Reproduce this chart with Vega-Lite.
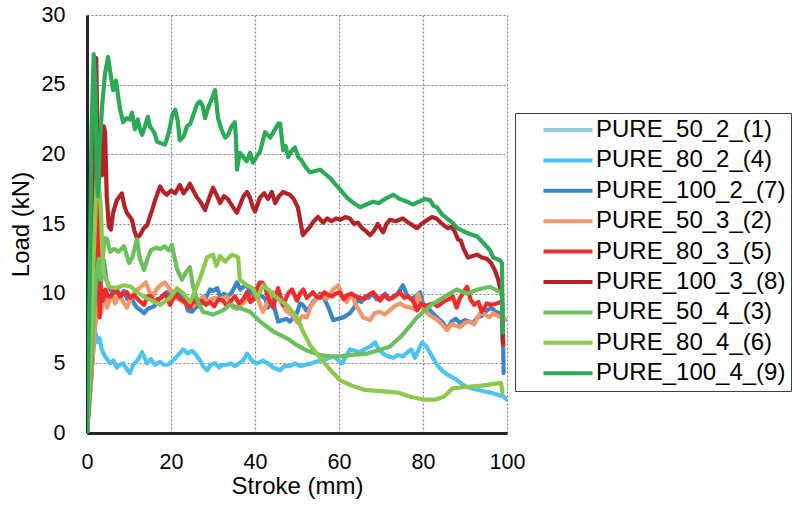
{
"$schema": "https://vega.github.io/schema/vega-lite/v6.json",
"width": 420, "height": 418,
"autosize": {"type": "none"},
"padding": {"left": 87, "top": 15, "right": 297, "bottom": 73},
"background": "white",
"config": {"font": "Liberation Sans", "view": {"stroke": null}},
"datasets": {"d": [
{"s":"PURE_80_2_(4)","x":0,"y":0},{"s":"PURE_80_2_(4)","x":0.8,"y":3},{"s":"PURE_80_2_(4)","x":1.5,"y":6.8},{"s":"PURE_80_2_(4)","x":1.9,"y":7.3},{"s":"PURE_80_2_(4)","x":2.3,"y":6.9},{"s":"PURE_80_2_(4)","x":2.6,"y":6.5},{"s":"PURE_80_2_(4)","x":3,"y":6.8},{"s":"PURE_80_2_(4)","x":3.5,"y":6},{"s":"PURE_80_2_(4)","x":4.3,"y":5.5},{"s":"PURE_80_2_(4)","x":5.5,"y":5},{"s":"PURE_80_2_(4)","x":6.3,"y":5.2},{"s":"PURE_80_2_(4)","x":7.1,"y":4.7},{"s":"PURE_80_2_(4)","x":7.8,"y":4.9},{"s":"PURE_80_2_(4)","x":8.6,"y":5},{"s":"PURE_80_2_(4)","x":9.4,"y":4.6},{"s":"PURE_80_2_(4)","x":10.2,"y":4.3},{"s":"PURE_80_2_(4)","x":11,"y":4.9},{"s":"PURE_80_2_(4)","x":12,"y":5.2},{"s":"PURE_80_2_(4)","x":13.1,"y":5.8},{"s":"PURE_80_2_(4)","x":14.3,"y":5},{"s":"PURE_80_2_(4)","x":15.2,"y":5.3},{"s":"PURE_80_2_(4)","x":16.2,"y":4.9},{"s":"PURE_80_2_(4)","x":17.4,"y":5.1},{"s":"PURE_80_2_(4)","x":18.3,"y":4.9},{"s":"PURE_80_2_(4)","x":19.3,"y":4.9},{"s":"PURE_80_2_(4)","x":20.5,"y":5.2},{"s":"PURE_80_2_(4)","x":21.4,"y":5.5},{"s":"PURE_80_2_(4)","x":22.9,"y":6},{"s":"PURE_80_2_(4)","x":24,"y":5.7},{"s":"PURE_80_2_(4)","x":25,"y":5.9},{"s":"PURE_80_2_(4)","x":26,"y":5.6},{"s":"PURE_80_2_(4)","x":26.9,"y":5.2},{"s":"PURE_80_2_(4)","x":27.6,"y":4.8},{"s":"PURE_80_2_(4)","x":28.6,"y":4.5},{"s":"PURE_80_2_(4)","x":29.5,"y":4.9},{"s":"PURE_80_2_(4)","x":30.5,"y":5},{"s":"PURE_80_2_(4)","x":31.5,"y":4.7},{"s":"PURE_80_2_(4)","x":32.3,"y":4.9},{"s":"PURE_80_2_(4)","x":33.3,"y":4.9},{"s":"PURE_80_2_(4)","x":34.3,"y":5},{"s":"PURE_80_2_(4)","x":35.2,"y":4.8},{"s":"PURE_80_2_(4)","x":36.2,"y":5},{"s":"PURE_80_2_(4)","x":37.2,"y":5.2},{"s":"PURE_80_2_(4)","x":38.1,"y":5.7},{"s":"PURE_80_2_(4)","x":39.5,"y":5.1},{"s":"PURE_80_2_(4)","x":40.5,"y":5},{"s":"PURE_80_2_(4)","x":41.9,"y":5.2},{"s":"PURE_80_2_(4)","x":43.1,"y":5},{"s":"PURE_80_2_(4)","x":44.3,"y":4.7},{"s":"PURE_80_2_(4)","x":46,"y":4.5},{"s":"PURE_80_2_(4)","x":47,"y":4.8},{"s":"PURE_80_2_(4)","x":48.3,"y":4.8},{"s":"PURE_80_2_(4)","x":49.5,"y":5},{"s":"PURE_80_2_(4)","x":50.7,"y":4.8},{"s":"PURE_80_2_(4)","x":52,"y":4.9},{"s":"PURE_80_2_(4)","x":53.5,"y":5},{"s":"PURE_80_2_(4)","x":55.5,"y":5.2},{"s":"PURE_80_2_(4)","x":57,"y":5.3},{"s":"PURE_80_2_(4)","x":58.6,"y":5.5},{"s":"PURE_80_2_(4)","x":59.5,"y":5.3},{"s":"PURE_80_2_(4)","x":60.7,"y":5},{"s":"PURE_80_2_(4)","x":61.7,"y":5.5},{"s":"PURE_80_2_(4)","x":62.6,"y":6},{"s":"PURE_80_2_(4)","x":63.8,"y":5.9},{"s":"PURE_80_2_(4)","x":65,"y":5.8},{"s":"PURE_80_2_(4)","x":66,"y":6},{"s":"PURE_80_2_(4)","x":67.4,"y":6.2},{"s":"PURE_80_2_(4)","x":68.6,"y":6.5},{"s":"PURE_80_2_(4)","x":69.5,"y":6},{"s":"PURE_80_2_(4)","x":70.5,"y":5.7},{"s":"PURE_80_2_(4)","x":71.7,"y":5.5},{"s":"PURE_80_2_(4)","x":73,"y":5.4},{"s":"PURE_80_2_(4)","x":74,"y":5.6},{"s":"PURE_80_2_(4)","x":75.2,"y":5.5},{"s":"PURE_80_2_(4)","x":76.3,"y":5.8},{"s":"PURE_80_2_(4)","x":77.2,"y":6},{"s":"PURE_80_2_(4)","x":78.1,"y":5.4},{"s":"PURE_80_2_(4)","x":79,"y":6},{"s":"PURE_80_2_(4)","x":79.8,"y":6.5},{"s":"PURE_80_2_(4)","x":80.8,"y":6.2},{"s":"PURE_80_2_(4)","x":82,"y":5.6},{"s":"PURE_80_2_(4)","x":83.3,"y":4.9},{"s":"PURE_80_2_(4)","x":84.5,"y":4.5},{"s":"PURE_80_2_(4)","x":85.7,"y":4.2},{"s":"PURE_80_2_(4)","x":87,"y":4},{"s":"PURE_80_2_(4)","x":88.1,"y":3.8},{"s":"PURE_80_2_(4)","x":89.3,"y":3.5},{"s":"PURE_80_2_(4)","x":90.5,"y":3.3},{"s":"PURE_80_2_(4)","x":91.7,"y":3.2},{"s":"PURE_80_2_(4)","x":92.9,"y":3.1},{"s":"PURE_80_2_(4)","x":94.5,"y":3},{"s":"PURE_80_2_(4)","x":96,"y":2.9},{"s":"PURE_80_2_(4)","x":97.2,"y":2.8},{"s":"PURE_80_2_(4)","x":98.3,"y":2.7},{"s":"PURE_80_2_(4)","x":99.2,"y":2.6},{"s":"PURE_80_2_(4)","x":100,"y":2.4},
{"s":"PURE_100_2_(7)","x":0,"y":0},{"s":"PURE_100_2_(7)","x":1,"y":4},{"s":"PURE_100_2_(7)","x":2,"y":8},{"s":"PURE_100_2_(7)","x":2.6,"y":9.5},{"s":"PURE_100_2_(7)","x":3.2,"y":10.5},{"s":"PURE_100_2_(7)","x":4,"y":12.4},{"s":"PURE_100_2_(7)","x":4.6,"y":11},{"s":"PURE_100_2_(7)","x":5.5,"y":10.3},{"s":"PURE_100_2_(7)","x":6.3,"y":10},{"s":"PURE_100_2_(7)","x":7.1,"y":10.1},{"s":"PURE_100_2_(7)","x":8,"y":9.9},{"s":"PURE_100_2_(7)","x":8.8,"y":10.2},{"s":"PURE_100_2_(7)","x":9.6,"y":9.6},{"s":"PURE_100_2_(7)","x":10.5,"y":9.8},{"s":"PURE_100_2_(7)","x":11.2,"y":9.3},{"s":"PURE_100_2_(7)","x":11.9,"y":9},{"s":"PURE_100_2_(7)","x":12.8,"y":8.8},{"s":"PURE_100_2_(7)","x":13.6,"y":8.6},{"s":"PURE_100_2_(7)","x":14.4,"y":8.9},{"s":"PURE_100_2_(7)","x":15.2,"y":9},{"s":"PURE_100_2_(7)","x":16,"y":9.1},{"s":"PURE_100_2_(7)","x":16.7,"y":9.4},{"s":"PURE_100_2_(7)","x":17.8,"y":9.8},{"s":"PURE_100_2_(7)","x":19,"y":10.1},{"s":"PURE_100_2_(7)","x":20,"y":9.8},{"s":"PURE_100_2_(7)","x":21.4,"y":10.1},{"s":"PURE_100_2_(7)","x":22.4,"y":9.9},{"s":"PURE_100_2_(7)","x":23.3,"y":9.5},{"s":"PURE_100_2_(7)","x":24,"y":8.8},{"s":"PURE_100_2_(7)","x":25,"y":8.7},{"s":"PURE_100_2_(7)","x":25.8,"y":9},{"s":"PURE_100_2_(7)","x":26.9,"y":9.2},{"s":"PURE_100_2_(7)","x":28,"y":9.5},{"s":"PURE_100_2_(7)","x":29.3,"y":10.3},{"s":"PURE_100_2_(7)","x":30,"y":10.2},{"s":"PURE_100_2_(7)","x":31,"y":10.4},{"s":"PURE_100_2_(7)","x":31.8,"y":9.7},{"s":"PURE_100_2_(7)","x":32.6,"y":10},{"s":"PURE_100_2_(7)","x":33.5,"y":9.8},{"s":"PURE_100_2_(7)","x":34.5,"y":10.1},{"s":"PURE_100_2_(7)","x":35.7,"y":10.8},{"s":"PURE_100_2_(7)","x":36.5,"y":10.3},{"s":"PURE_100_2_(7)","x":37.3,"y":10.5},{"s":"PURE_100_2_(7)","x":38.1,"y":10.6},{"s":"PURE_100_2_(7)","x":39,"y":10},{"s":"PURE_100_2_(7)","x":40,"y":9.9},{"s":"PURE_100_2_(7)","x":40.8,"y":10},{"s":"PURE_100_2_(7)","x":41.7,"y":9.8},{"s":"PURE_100_2_(7)","x":42.5,"y":9.6},{"s":"PURE_100_2_(7)","x":43.1,"y":9},{"s":"PURE_100_2_(7)","x":44,"y":9.8},{"s":"PURE_100_2_(7)","x":44.8,"y":8.8},{"s":"PURE_100_2_(7)","x":45.5,"y":8},{"s":"PURE_100_2_(7)","x":46.5,"y":8.1},{"s":"PURE_100_2_(7)","x":47.5,"y":8.2},{"s":"PURE_100_2_(7)","x":48.3,"y":8},{"s":"PURE_100_2_(7)","x":49.2,"y":8.3},{"s":"PURE_100_2_(7)","x":50,"y":8.6},{"s":"PURE_100_2_(7)","x":50.7,"y":9.3},{"s":"PURE_100_2_(7)","x":51.4,"y":9.2},{"s":"PURE_100_2_(7)","x":52.2,"y":8.8},{"s":"PURE_100_2_(7)","x":53,"y":9},{"s":"PURE_100_2_(7)","x":53.8,"y":9.4},{"s":"PURE_100_2_(7)","x":54.8,"y":9.7},{"s":"PURE_100_2_(7)","x":55.5,"y":10},{"s":"PURE_100_2_(7)","x":56.4,"y":9.7},{"s":"PURE_100_2_(7)","x":57.5,"y":9},{"s":"PURE_100_2_(7)","x":58.6,"y":8.1},{"s":"PURE_100_2_(7)","x":59.8,"y":8.2},{"s":"PURE_100_2_(7)","x":61,"y":8.3},{"s":"PURE_100_2_(7)","x":62.6,"y":8.6},{"s":"PURE_100_2_(7)","x":63.6,"y":9},{"s":"PURE_100_2_(7)","x":64.5,"y":9.6},{"s":"PURE_100_2_(7)","x":65.3,"y":9.4},{"s":"PURE_100_2_(7)","x":66.2,"y":9.8},{"s":"PURE_100_2_(7)","x":67,"y":9.7},{"s":"PURE_100_2_(7)","x":68,"y":10},{"s":"PURE_100_2_(7)","x":69,"y":9.6},{"s":"PURE_100_2_(7)","x":70,"y":9.7},{"s":"PURE_100_2_(7)","x":71,"y":10},{"s":"PURE_100_2_(7)","x":72,"y":9.6},{"s":"PURE_100_2_(7)","x":73,"y":9.8},{"s":"PURE_100_2_(7)","x":74,"y":10},{"s":"PURE_100_2_(7)","x":75.2,"y":10.6},{"s":"PURE_100_2_(7)","x":76.2,"y":9.9},{"s":"PURE_100_2_(7)","x":77.2,"y":9.6},{"s":"PURE_100_2_(7)","x":78.2,"y":9.8},{"s":"PURE_100_2_(7)","x":79.3,"y":10.1},{"s":"PURE_100_2_(7)","x":80,"y":9.3},{"s":"PURE_100_2_(7)","x":81,"y":9},{"s":"PURE_100_2_(7)","x":81.7,"y":8.8},{"s":"PURE_100_2_(7)","x":83.3,"y":8.3},{"s":"PURE_100_2_(7)","x":84.8,"y":7.9},{"s":"PURE_100_2_(7)","x":85.7,"y":7.4},{"s":"PURE_100_2_(7)","x":86.8,"y":8},{"s":"PURE_100_2_(7)","x":87.8,"y":8.2},{"s":"PURE_100_2_(7)","x":88.8,"y":7.9},{"s":"PURE_100_2_(7)","x":90,"y":8.1},{"s":"PURE_100_2_(7)","x":91,"y":8},{"s":"PURE_100_2_(7)","x":91.9,"y":7.9},{"s":"PURE_100_2_(7)","x":93,"y":8.3},{"s":"PURE_100_2_(7)","x":94,"y":8.4},{"s":"PURE_100_2_(7)","x":95.2,"y":8.8},{"s":"PURE_100_2_(7)","x":96.2,"y":9},{"s":"PURE_100_2_(7)","x":97.3,"y":8.7},{"s":"PURE_100_2_(7)","x":98.3,"y":8.6},{"s":"PURE_100_2_(7)","x":98.8,"y":8.4},{"s":"PURE_100_2_(7)","x":99.1,"y":6},{"s":"PURE_100_2_(7)","x":99.2,"y":4.3},
{"s":"PURE_50_3_(2)","x":0,"y":0},{"s":"PURE_50_3_(2)","x":1,"y":4},{"s":"PURE_50_3_(2)","x":2,"y":8},{"s":"PURE_50_3_(2)","x":2.9,"y":9.5},{"s":"PURE_50_3_(2)","x":3.4,"y":8.6},{"s":"PURE_50_3_(2)","x":3.9,"y":10},{"s":"PURE_50_3_(2)","x":4.8,"y":9},{"s":"PURE_50_3_(2)","x":5.4,"y":9.5},{"s":"PURE_50_3_(2)","x":6,"y":10},{"s":"PURE_50_3_(2)","x":6.7,"y":9.3},{"s":"PURE_50_3_(2)","x":7.5,"y":9.8},{"s":"PURE_50_3_(2)","x":8.3,"y":9.6},{"s":"PURE_50_3_(2)","x":9,"y":9.2},{"s":"PURE_50_3_(2)","x":9.5,"y":9},{"s":"PURE_50_3_(2)","x":10.3,"y":9.6},{"s":"PURE_50_3_(2)","x":11.2,"y":10},{"s":"PURE_50_3_(2)","x":12,"y":10.3},{"s":"PURE_50_3_(2)","x":12.9,"y":10.5},{"s":"PURE_50_3_(2)","x":14,"y":10.8},{"s":"PURE_50_3_(2)","x":14.8,"y":10.2},{"s":"PURE_50_3_(2)","x":15.6,"y":9.8},{"s":"PURE_50_3_(2)","x":16.5,"y":10.3},{"s":"PURE_50_3_(2)","x":17.4,"y":10.6},{"s":"PURE_50_3_(2)","x":18.6,"y":10.8},{"s":"PURE_50_3_(2)","x":19.8,"y":10.3},{"s":"PURE_50_3_(2)","x":20.8,"y":9.9},{"s":"PURE_50_3_(2)","x":21.8,"y":9.6},{"s":"PURE_50_3_(2)","x":22.9,"y":9.4},{"s":"PURE_50_3_(2)","x":24,"y":9.2},{"s":"PURE_50_3_(2)","x":25.2,"y":9.1},{"s":"PURE_50_3_(2)","x":26.4,"y":9.4},{"s":"PURE_50_3_(2)","x":27.6,"y":9.8},{"s":"PURE_50_3_(2)","x":28.6,"y":9.3},{"s":"PURE_50_3_(2)","x":29.5,"y":9.6},{"s":"PURE_50_3_(2)","x":30.5,"y":9.7},{"s":"PURE_50_3_(2)","x":31.5,"y":9.6},{"s":"PURE_50_3_(2)","x":32.4,"y":9.7},{"s":"PURE_50_3_(2)","x":33.3,"y":9.8},{"s":"PURE_50_3_(2)","x":34.8,"y":9},{"s":"PURE_50_3_(2)","x":35.7,"y":8.9},{"s":"PURE_50_3_(2)","x":36.8,"y":9.2},{"s":"PURE_50_3_(2)","x":38,"y":9.6},{"s":"PURE_50_3_(2)","x":39.3,"y":9.7},{"s":"PURE_50_3_(2)","x":40.5,"y":9.9},{"s":"PURE_50_3_(2)","x":41.2,"y":9.2},{"s":"PURE_50_3_(2)","x":41.9,"y":8.7},{"s":"PURE_50_3_(2)","x":43,"y":9.4},{"s":"PURE_50_3_(2)","x":44.3,"y":10.1},{"s":"PURE_50_3_(2)","x":45.5,"y":9.7},{"s":"PURE_50_3_(2)","x":46.6,"y":9.2},{"s":"PURE_50_3_(2)","x":47.6,"y":8.7},{"s":"PURE_50_3_(2)","x":48.8,"y":8.5},{"s":"PURE_50_3_(2)","x":50.2,"y":7.9},{"s":"PURE_50_3_(2)","x":51.2,"y":8.4},{"s":"PURE_50_3_(2)","x":52.4,"y":8.3},{"s":"PURE_50_3_(2)","x":53.1,"y":9},{"s":"PURE_50_3_(2)","x":53.8,"y":9.3},{"s":"PURE_50_3_(2)","x":55,"y":9.8},{"s":"PURE_50_3_(2)","x":56,"y":9.9},{"s":"PURE_50_3_(2)","x":57,"y":9.6},{"s":"PURE_50_3_(2)","x":58.6,"y":10.3},{"s":"PURE_50_3_(2)","x":59.8,"y":10.6},{"s":"PURE_50_3_(2)","x":60.8,"y":9.8},{"s":"PURE_50_3_(2)","x":61.8,"y":9.4},{"s":"PURE_50_3_(2)","x":63,"y":10},{"s":"PURE_50_3_(2)","x":64,"y":9.2},{"s":"PURE_50_3_(2)","x":65,"y":8.7},{"s":"PURE_50_3_(2)","x":65.7,"y":8.3},{"s":"PURE_50_3_(2)","x":67.4,"y":8.1},{"s":"PURE_50_3_(2)","x":68.5,"y":8.6},{"s":"PURE_50_3_(2)","x":69.7,"y":8.7},{"s":"PURE_50_3_(2)","x":70.8,"y":8.5},{"s":"PURE_50_3_(2)","x":72.1,"y":8.8},{"s":"PURE_50_3_(2)","x":73.2,"y":9.1},{"s":"PURE_50_3_(2)","x":74.5,"y":9.3},{"s":"PURE_50_3_(2)","x":75.6,"y":9.1},{"s":"PURE_50_3_(2)","x":76.8,"y":9},{"s":"PURE_50_3_(2)","x":78,"y":8.9},{"s":"PURE_50_3_(2)","x":78.8,"y":10},{"s":"PURE_50_3_(2)","x":79.8,"y":9},{"s":"PURE_50_3_(2)","x":81,"y":8.6},{"s":"PURE_50_3_(2)","x":82.4,"y":8.3},{"s":"PURE_50_3_(2)","x":83.5,"y":8.1},{"s":"PURE_50_3_(2)","x":84.5,"y":7.8},{"s":"PURE_50_3_(2)","x":85.7,"y":7.4},{"s":"PURE_50_3_(2)","x":86.8,"y":7.8},{"s":"PURE_50_3_(2)","x":87.8,"y":7.7},{"s":"PURE_50_3_(2)","x":88.8,"y":7.6},{"s":"PURE_50_3_(2)","x":90,"y":7.9},{"s":"PURE_50_3_(2)","x":91,"y":8},{"s":"PURE_50_3_(2)","x":92.2,"y":7.8},{"s":"PURE_50_3_(2)","x":93.6,"y":8.6},{"s":"PURE_50_3_(2)","x":94.8,"y":8.5},{"s":"PURE_50_3_(2)","x":95.8,"y":8.3},{"s":"PURE_50_3_(2)","x":96.7,"y":8.6},{"s":"PURE_50_3_(2)","x":97.8,"y":8.4},{"s":"PURE_50_3_(2)","x":98.8,"y":8.3},{"s":"PURE_50_3_(2)","x":100,"y":8.1},
{"s":"PURE_80_3_(5)","x":0,"y":0},{"s":"PURE_80_3_(5)","x":1,"y":5},{"s":"PURE_80_3_(5)","x":1.8,"y":12},{"s":"PURE_80_3_(5)","x":2.4,"y":21},{"s":"PURE_80_3_(5)","x":2.7,"y":15},{"s":"PURE_80_3_(5)","x":3,"y":8.3},{"s":"PURE_80_3_(5)","x":3.3,"y":10.5},{"s":"PURE_80_3_(5)","x":3.8,"y":9.5},{"s":"PURE_80_3_(5)","x":4.4,"y":10.3},{"s":"PURE_80_3_(5)","x":5,"y":9.8},{"s":"PURE_80_3_(5)","x":5.7,"y":9.8},{"s":"PURE_80_3_(5)","x":6.4,"y":10.2},{"s":"PURE_80_3_(5)","x":7.1,"y":10.3},{"s":"PURE_80_3_(5)","x":7.9,"y":9.8},{"s":"PURE_80_3_(5)","x":8.7,"y":10},{"s":"PURE_80_3_(5)","x":9.5,"y":10.1},{"s":"PURE_80_3_(5)","x":10.3,"y":9.7},{"s":"PURE_80_3_(5)","x":11.2,"y":9.9},{"s":"PURE_80_3_(5)","x":12.4,"y":9.5},{"s":"PURE_80_3_(5)","x":13.6,"y":9.2},{"s":"PURE_80_3_(5)","x":14.4,"y":9.8},{"s":"PURE_80_3_(5)","x":15.2,"y":9.8},{"s":"PURE_80_3_(5)","x":16,"y":9.4},{"s":"PURE_80_3_(5)","x":16.8,"y":9.6},{"s":"PURE_80_3_(5)","x":17.7,"y":9.7},{"s":"PURE_80_3_(5)","x":18.6,"y":10},{"s":"PURE_80_3_(5)","x":19.8,"y":9.2},{"s":"PURE_80_3_(5)","x":20.6,"y":9.7},{"s":"PURE_80_3_(5)","x":21.4,"y":9.9},{"s":"PURE_80_3_(5)","x":22.3,"y":9.6},{"s":"PURE_80_3_(5)","x":23.3,"y":9.4},{"s":"PURE_80_3_(5)","x":24.5,"y":9},{"s":"PURE_80_3_(5)","x":25.4,"y":9.6},{"s":"PURE_80_3_(5)","x":26.3,"y":9.3},{"s":"PURE_80_3_(5)","x":27.3,"y":9.5},{"s":"PURE_80_3_(5)","x":28.3,"y":9.2},{"s":"PURE_80_3_(5)","x":29.3,"y":9.4},{"s":"PURE_80_3_(5)","x":30.3,"y":9.1},{"s":"PURE_80_3_(5)","x":31.3,"y":9.6},{"s":"PURE_80_3_(5)","x":32.4,"y":9.5},{"s":"PURE_80_3_(5)","x":33.3,"y":9.1},{"s":"PURE_80_3_(5)","x":34.3,"y":9.5},{"s":"PURE_80_3_(5)","x":35.2,"y":9.8},{"s":"PURE_80_3_(5)","x":36.2,"y":9.3},{"s":"PURE_80_3_(5)","x":37.2,"y":9.6},{"s":"PURE_80_3_(5)","x":38.1,"y":10.1},{"s":"PURE_80_3_(5)","x":38.9,"y":9.4},{"s":"PURE_80_3_(5)","x":39.7,"y":9.6},{"s":"PURE_80_3_(5)","x":40.5,"y":10.4},{"s":"PURE_80_3_(5)","x":41.1,"y":10.8},{"s":"PURE_80_3_(5)","x":41.7,"y":10.8},{"s":"PURE_80_3_(5)","x":42.4,"y":10.5},{"s":"PURE_80_3_(5)","x":43.1,"y":9.7},{"s":"PURE_80_3_(5)","x":44.3,"y":9},{"s":"PURE_80_3_(5)","x":45.5,"y":10.4},{"s":"PURE_80_3_(5)","x":46.7,"y":9.2},{"s":"PURE_80_3_(5)","x":47.9,"y":10},{"s":"PURE_80_3_(5)","x":48.8,"y":10.3},{"s":"PURE_80_3_(5)","x":50,"y":9.5},{"s":"PURE_80_3_(5)","x":50.7,"y":10},{"s":"PURE_80_3_(5)","x":51.5,"y":10.3},{"s":"PURE_80_3_(5)","x":52.3,"y":9.7},{"s":"PURE_80_3_(5)","x":53.1,"y":9.9},{"s":"PURE_80_3_(5)","x":53.8,"y":10.1},{"s":"PURE_80_3_(5)","x":54.6,"y":9.8},{"s":"PURE_80_3_(5)","x":55.5,"y":9.7},{"s":"PURE_80_3_(5)","x":56.5,"y":10.1},{"s":"PURE_80_3_(5)","x":57.4,"y":9.9},{"s":"PURE_80_3_(5)","x":58.3,"y":9.8},{"s":"PURE_80_3_(5)","x":59.2,"y":10},{"s":"PURE_80_3_(5)","x":60.2,"y":10.1},{"s":"PURE_80_3_(5)","x":61.1,"y":9.6},{"s":"PURE_80_3_(5)","x":62,"y":9.9},{"s":"PURE_80_3_(5)","x":63,"y":10},{"s":"PURE_80_3_(5)","x":64,"y":9.8},{"s":"PURE_80_3_(5)","x":65,"y":9.7},{"s":"PURE_80_3_(5)","x":66,"y":9.6},{"s":"PURE_80_3_(5)","x":67,"y":9.9},{"s":"PURE_80_3_(5)","x":68.1,"y":10.1},{"s":"PURE_80_3_(5)","x":69,"y":9.8},{"s":"PURE_80_3_(5)","x":69.8,"y":9.5},{"s":"PURE_80_3_(5)","x":70.8,"y":9.9},{"s":"PURE_80_3_(5)","x":71.8,"y":9.6},{"s":"PURE_80_3_(5)","x":72.8,"y":9.7},{"s":"PURE_80_3_(5)","x":73.7,"y":9.9},{"s":"PURE_80_3_(5)","x":74.5,"y":10.1},{"s":"PURE_80_3_(5)","x":75.5,"y":9.7},{"s":"PURE_80_3_(5)","x":76.5,"y":9.8},{"s":"PURE_80_3_(5)","x":77.6,"y":9.5},{"s":"PURE_80_3_(5)","x":78.6,"y":8.8},{"s":"PURE_80_3_(5)","x":79.5,"y":9.3},{"s":"PURE_80_3_(5)","x":80.5,"y":9.1},{"s":"PURE_80_3_(5)","x":81.4,"y":9.2},{"s":"PURE_80_3_(5)","x":82.4,"y":9.3},{"s":"PURE_80_3_(5)","x":83.4,"y":9.1},{"s":"PURE_80_3_(5)","x":84.4,"y":9.3},{"s":"PURE_80_3_(5)","x":85.3,"y":9.5},{"s":"PURE_80_3_(5)","x":86.2,"y":9.6},{"s":"PURE_80_3_(5)","x":87.1,"y":9.8},{"s":"PURE_80_3_(5)","x":88,"y":9},{"s":"PURE_80_3_(5)","x":88.8,"y":9.7},{"s":"PURE_80_3_(5)","x":89.5,"y":10},{"s":"PURE_80_3_(5)","x":90.5,"y":10.5},{"s":"PURE_80_3_(5)","x":91.3,"y":9.6},{"s":"PURE_80_3_(5)","x":92.2,"y":9.2},{"s":"PURE_80_3_(5)","x":93.2,"y":9.4},{"s":"PURE_80_3_(5)","x":94,"y":8.7},{"s":"PURE_80_3_(5)","x":94.6,"y":9},{"s":"PURE_80_3_(5)","x":95.2,"y":9.3},{"s":"PURE_80_3_(5)","x":96.3,"y":9.2},{"s":"PURE_80_3_(5)","x":97.6,"y":9.3},{"s":"PURE_80_3_(5)","x":98.5,"y":9.4},{"s":"PURE_80_3_(5)","x":98.9,"y":9.3},{"s":"PURE_80_3_(5)","x":99.1,"y":6.3},
{"s":"PURE_100_3_(8)","x":0,"y":0},{"s":"PURE_100_3_(8)","x":1,"y":5},{"s":"PURE_100_3_(8)","x":1.8,"y":18},{"s":"PURE_100_3_(8)","x":2.2,"y":26.9},{"s":"PURE_100_3_(8)","x":2.5,"y":21},{"s":"PURE_100_3_(8)","x":2.8,"y":17.5},{"s":"PURE_100_3_(8)","x":3.2,"y":21.5},{"s":"PURE_100_3_(8)","x":3.6,"y":18.5},{"s":"PURE_100_3_(8)","x":4,"y":22},{"s":"PURE_100_3_(8)","x":4.3,"y":21.6},{"s":"PURE_100_3_(8)","x":4.7,"y":17},{"s":"PURE_100_3_(8)","x":5.2,"y":14.8},{"s":"PURE_100_3_(8)","x":5.7,"y":14.6},{"s":"PURE_100_3_(8)","x":6.2,"y":15.8},{"s":"PURE_100_3_(8)","x":7.1,"y":16.7},{"s":"PURE_100_3_(8)","x":8.3,"y":17.2},{"s":"PURE_100_3_(8)","x":8.9,"y":16.3},{"s":"PURE_100_3_(8)","x":9.5,"y":15.8},{"s":"PURE_100_3_(8)","x":10.7,"y":15.3},{"s":"PURE_100_3_(8)","x":11.3,"y":14.5},{"s":"PURE_100_3_(8)","x":11.9,"y":14},{"s":"PURE_100_3_(8)","x":12.6,"y":14.2},{"s":"PURE_100_3_(8)","x":13.5,"y":14.7},{"s":"PURE_100_3_(8)","x":14.3,"y":14.9},{"s":"PURE_100_3_(8)","x":15.5,"y":16},{"s":"PURE_100_3_(8)","x":16.2,"y":16.7},{"s":"PURE_100_3_(8)","x":17.4,"y":17.7},{"s":"PURE_100_3_(8)","x":18.2,"y":17.3},{"s":"PURE_100_3_(8)","x":19,"y":17.1},{"s":"PURE_100_3_(8)","x":20,"y":17.4},{"s":"PURE_100_3_(8)","x":21,"y":17.2},{"s":"PURE_100_3_(8)","x":22.1,"y":17.8},{"s":"PURE_100_3_(8)","x":23,"y":17.2},{"s":"PURE_100_3_(8)","x":24,"y":17.6},{"s":"PURE_100_3_(8)","x":24.5,"y":17.9},{"s":"PURE_100_3_(8)","x":25.3,"y":17.4},{"s":"PURE_100_3_(8)","x":26.2,"y":16.9},{"s":"PURE_100_3_(8)","x":27,"y":16.6},{"s":"PURE_100_3_(8)","x":28.1,"y":16},{"s":"PURE_100_3_(8)","x":29,"y":16.8},{"s":"PURE_100_3_(8)","x":30,"y":17.6},{"s":"PURE_100_3_(8)","x":31,"y":17},{"s":"PURE_100_3_(8)","x":31.7,"y":16.5},{"s":"PURE_100_3_(8)","x":32.6,"y":17},{"s":"PURE_100_3_(8)","x":33.5,"y":16.8},{"s":"PURE_100_3_(8)","x":34.8,"y":16.2},{"s":"PURE_100_3_(8)","x":35.7,"y":15.8},{"s":"PURE_100_3_(8)","x":36.6,"y":16.5},{"s":"PURE_100_3_(8)","x":37.3,"y":17},{"s":"PURE_100_3_(8)","x":38.1,"y":17.3},{"s":"PURE_100_3_(8)","x":38.8,"y":16.9},{"s":"PURE_100_3_(8)","x":39.5,"y":16.2},{"s":"PURE_100_3_(8)","x":40,"y":15.9},{"s":"PURE_100_3_(8)","x":40.6,"y":16.4},{"s":"PURE_100_3_(8)","x":41.2,"y":16.9},{"s":"PURE_100_3_(8)","x":42.2,"y":17.2},{"s":"PURE_100_3_(8)","x":43.1,"y":16.8},{"s":"PURE_100_3_(8)","x":44,"y":17.3},{"s":"PURE_100_3_(8)","x":44.8,"y":16.5},{"s":"PURE_100_3_(8)","x":45.7,"y":17},{"s":"PURE_100_3_(8)","x":46.7,"y":17.3},{"s":"PURE_100_3_(8)","x":47.5,"y":17.2},{"s":"PURE_100_3_(8)","x":48.3,"y":17.1},{"s":"PURE_100_3_(8)","x":49.2,"y":16.8},{"s":"PURE_100_3_(8)","x":50.2,"y":16.2},{"s":"PURE_100_3_(8)","x":50.8,"y":15.2},{"s":"PURE_100_3_(8)","x":51.4,"y":14.2},{"s":"PURE_100_3_(8)","x":52.2,"y":14.5},{"s":"PURE_100_3_(8)","x":53.1,"y":14.8},{"s":"PURE_100_3_(8)","x":54,"y":15.2},{"s":"PURE_100_3_(8)","x":55,"y":15.5},{"s":"PURE_100_3_(8)","x":56.2,"y":15.1},{"s":"PURE_100_3_(8)","x":57.2,"y":15.4},{"s":"PURE_100_3_(8)","x":58.2,"y":15.2},{"s":"PURE_100_3_(8)","x":59.3,"y":15.4},{"s":"PURE_100_3_(8)","x":60.4,"y":15.3},{"s":"PURE_100_3_(8)","x":61.5,"y":15.5},{"s":"PURE_100_3_(8)","x":62.6,"y":15.4},{"s":"PURE_100_3_(8)","x":63.6,"y":15},{"s":"PURE_100_3_(8)","x":64.5,"y":15.1},{"s":"PURE_100_3_(8)","x":65.5,"y":14.7},{"s":"PURE_100_3_(8)","x":66.4,"y":14.5},{"s":"PURE_100_3_(8)","x":67.4,"y":14.2},{"s":"PURE_100_3_(8)","x":68.3,"y":14.5},{"s":"PURE_100_3_(8)","x":69.2,"y":15},{"s":"PURE_100_3_(8)","x":70.5,"y":14.4},{"s":"PURE_100_3_(8)","x":71.3,"y":15},{"s":"PURE_100_3_(8)","x":72.1,"y":15.3},{"s":"PURE_100_3_(8)","x":73.5,"y":15.2},{"s":"PURE_100_3_(8)","x":75.2,"y":15.4},{"s":"PURE_100_3_(8)","x":76.5,"y":15.1},{"s":"PURE_100_3_(8)","x":77.6,"y":14.9},{"s":"PURE_100_3_(8)","x":78.6,"y":14.7},{"s":"PURE_100_3_(8)","x":79.6,"y":15},{"s":"PURE_100_3_(8)","x":80.6,"y":15.2},{"s":"PURE_100_3_(8)","x":82.1,"y":15.5},{"s":"PURE_100_3_(8)","x":83.2,"y":15.4},{"s":"PURE_100_3_(8)","x":84.2,"y":15.1},{"s":"PURE_100_3_(8)","x":85,"y":14.9},{"s":"PURE_100_3_(8)","x":86,"y":14.7},{"s":"PURE_100_3_(8)","x":86.8,"y":14.8},{"s":"PURE_100_3_(8)","x":87.5,"y":14.5},{"s":"PURE_100_3_(8)","x":88.3,"y":13.9},{"s":"PURE_100_3_(8)","x":89,"y":13.8},{"s":"PURE_100_3_(8)","x":89.7,"y":13.2},{"s":"PURE_100_3_(8)","x":90.7,"y":12.6},{"s":"PURE_100_3_(8)","x":91.8,"y":12.7},{"s":"PURE_100_3_(8)","x":92.9,"y":12.8},{"s":"PURE_100_3_(8)","x":94,"y":12.6},{"s":"PURE_100_3_(8)","x":95.2,"y":12.5},{"s":"PURE_100_3_(8)","x":96.2,"y":12.2},{"s":"PURE_100_3_(8)","x":97.1,"y":11.7},{"s":"PURE_100_3_(8)","x":97.8,"y":11.1},{"s":"PURE_100_3_(8)","x":98.3,"y":10.5},{"s":"PURE_100_3_(8)","x":98.8,"y":9.8},{"s":"PURE_100_3_(8)","x":99,"y":6.5},
{"s":"PURE_50_4_(3)","x":0,"y":0},{"s":"PURE_50_4_(3)","x":1,"y":5},{"s":"PURE_50_4_(3)","x":2,"y":10.5},{"s":"PURE_50_4_(3)","x":2.8,"y":12.5},{"s":"PURE_50_4_(3)","x":3.3,"y":11},{"s":"PURE_50_4_(3)","x":4.2,"y":14},{"s":"PURE_50_4_(3)","x":4.8,"y":13.9},{"s":"PURE_50_4_(3)","x":5.5,"y":13},{"s":"PURE_50_4_(3)","x":6.5,"y":13.2},{"s":"PURE_50_4_(3)","x":7.5,"y":13},{"s":"PURE_50_4_(3)","x":8.8,"y":13.4},{"s":"PURE_50_4_(3)","x":10,"y":12.2},{"s":"PURE_50_4_(3)","x":10.8,"y":12.6},{"s":"PURE_50_4_(3)","x":11.9,"y":13.9},{"s":"PURE_50_4_(3)","x":12.6,"y":12.5},{"s":"PURE_50_4_(3)","x":13.6,"y":11.7},{"s":"PURE_50_4_(3)","x":14.5,"y":12.6},{"s":"PURE_50_4_(3)","x":15.2,"y":13.1},{"s":"PURE_50_4_(3)","x":16.5,"y":13.3},{"s":"PURE_50_4_(3)","x":17.4,"y":13.2},{"s":"PURE_50_4_(3)","x":18.5,"y":13.4},{"s":"PURE_50_4_(3)","x":19.5,"y":13.1},{"s":"PURE_50_4_(3)","x":20.2,"y":13.5},{"s":"PURE_50_4_(3)","x":21.4,"y":11.8},{"s":"PURE_50_4_(3)","x":22.6,"y":11},{"s":"PURE_50_4_(3)","x":23.5,"y":11.5},{"s":"PURE_50_4_(3)","x":24.5,"y":11.9},{"s":"PURE_50_4_(3)","x":25.2,"y":10.6},{"s":"PURE_50_4_(3)","x":26.4,"y":9.4},{"s":"PURE_50_4_(3)","x":27.6,"y":8.7},{"s":"PURE_50_4_(3)","x":30,"y":8.5},{"s":"PURE_50_4_(3)","x":32.4,"y":8.8},{"s":"PURE_50_4_(3)","x":34,"y":9.2},{"s":"PURE_50_4_(3)","x":36,"y":9},{"s":"PURE_50_4_(3)","x":38.8,"y":8.7},{"s":"PURE_50_4_(3)","x":41.2,"y":8},{"s":"PURE_50_4_(3)","x":44.3,"y":7.3},{"s":"PURE_50_4_(3)","x":47.6,"y":6.8},{"s":"PURE_50_4_(3)","x":50,"y":6.3},{"s":"PURE_50_4_(3)","x":52.5,"y":5.9},{"s":"PURE_50_4_(3)","x":55.5,"y":5.6},{"s":"PURE_50_4_(3)","x":58,"y":5.5},{"s":"PURE_50_4_(3)","x":60.2,"y":5.5},{"s":"PURE_50_4_(3)","x":63,"y":5.6},{"s":"PURE_50_4_(3)","x":66.7,"y":5.7},{"s":"PURE_50_4_(3)","x":70,"y":6},{"s":"PURE_50_4_(3)","x":72.1,"y":6.2},{"s":"PURE_50_4_(3)","x":75,"y":7},{"s":"PURE_50_4_(3)","x":78.6,"y":8.3},{"s":"PURE_50_4_(3)","x":82,"y":9.2},{"s":"PURE_50_4_(3)","x":86.4,"y":10},{"s":"PURE_50_4_(3)","x":88,"y":10.3},{"s":"PURE_50_4_(3)","x":90.5,"y":10},{"s":"PURE_50_4_(3)","x":93,"y":10.3},{"s":"PURE_50_4_(3)","x":96,"y":10.5},{"s":"PURE_50_4_(3)","x":98.3,"y":10.1},{"s":"PURE_50_4_(3)","x":98.8,"y":10},{"s":"PURE_50_4_(3)","x":99,"y":7.3},
{"s":"PURE_80_4_(6)","x":0,"y":0},{"s":"PURE_80_4_(6)","x":1,"y":8},{"s":"PURE_80_4_(6)","x":2.4,"y":19.1},{"s":"PURE_80_4_(6)","x":3.3,"y":16.2},{"s":"PURE_80_4_(6)","x":3.6,"y":13.4},{"s":"PURE_80_4_(6)","x":4,"y":11.5},{"s":"PURE_80_4_(6)","x":5.2,"y":10.5},{"s":"PURE_80_4_(6)","x":6.9,"y":10.4},{"s":"PURE_80_4_(6)","x":8.8,"y":10.6},{"s":"PURE_80_4_(6)","x":10.5,"y":10.5},{"s":"PURE_80_4_(6)","x":11.9,"y":10.1},{"s":"PURE_80_4_(6)","x":14,"y":9.7},{"s":"PURE_80_4_(6)","x":15.5,"y":9.5},{"s":"PURE_80_4_(6)","x":17.4,"y":9.2},{"s":"PURE_80_4_(6)","x":19.8,"y":9.7},{"s":"PURE_80_4_(6)","x":21.4,"y":10.4},{"s":"PURE_80_4_(6)","x":23,"y":10},{"s":"PURE_80_4_(6)","x":24.5,"y":9.4},{"s":"PURE_80_4_(6)","x":25.5,"y":10},{"s":"PURE_80_4_(6)","x":26.9,"y":11.1},{"s":"PURE_80_4_(6)","x":28.6,"y":12.6},{"s":"PURE_80_4_(6)","x":30,"y":12.8},{"s":"PURE_80_4_(6)","x":30.8,"y":12},{"s":"PURE_80_4_(6)","x":31.7,"y":12.7},{"s":"PURE_80_4_(6)","x":32.9,"y":12.3},{"s":"PURE_80_4_(6)","x":34.5,"y":12.8},{"s":"PURE_80_4_(6)","x":36,"y":12.6},{"s":"PURE_80_4_(6)","x":36.4,"y":11},{"s":"PURE_80_4_(6)","x":38.1,"y":10.6},{"s":"PURE_80_4_(6)","x":39.5,"y":10.4},{"s":"PURE_80_4_(6)","x":40.5,"y":9.7},{"s":"PURE_80_4_(6)","x":41.9,"y":10.6},{"s":"PURE_80_4_(6)","x":43.5,"y":10.2},{"s":"PURE_80_4_(6)","x":45.2,"y":9.7},{"s":"PURE_80_4_(6)","x":47.5,"y":9.2},{"s":"PURE_80_4_(6)","x":50,"y":8.3},{"s":"PURE_80_4_(6)","x":51.4,"y":7.3},{"s":"PURE_80_4_(6)","x":53.1,"y":6.3},{"s":"PURE_80_4_(6)","x":55.5,"y":5.4},{"s":"PURE_80_4_(6)","x":58,"y":4.5},{"s":"PURE_80_4_(6)","x":60.2,"y":3.8},{"s":"PURE_80_4_(6)","x":63,"y":3.4},{"s":"PURE_80_4_(6)","x":66,"y":3.1},{"s":"PURE_80_4_(6)","x":70,"y":3},{"s":"PURE_80_4_(6)","x":74,"y":2.9},{"s":"PURE_80_4_(6)","x":77,"y":2.6},{"s":"PURE_80_4_(6)","x":80,"y":2.4},{"s":"PURE_80_4_(6)","x":83,"y":2.4},{"s":"PURE_80_4_(6)","x":85,"y":2.6},{"s":"PURE_80_4_(6)","x":87,"y":3.2},{"s":"PURE_80_4_(6)","x":90,"y":3.3},{"s":"PURE_80_4_(6)","x":94,"y":3.4},{"s":"PURE_80_4_(6)","x":98.6,"y":3.6},{"s":"PURE_80_4_(6)","x":98.9,"y":2.9},
{"s":"PURE_100_4_(9)","x":0,"y":0},{"s":"PURE_100_4_(9)","x":0.6,"y":10},{"s":"PURE_100_4_(9)","x":1.1,"y":22},{"s":"PURE_100_4_(9)","x":1.6,"y":27.2},{"s":"PURE_100_4_(9)","x":2,"y":25},{"s":"PURE_100_4_(9)","x":2.3,"y":19},{"s":"PURE_100_4_(9)","x":2.6,"y":17},{"s":"PURE_100_4_(9)","x":3,"y":20.5},{"s":"PURE_100_4_(9)","x":3.6,"y":23.5},{"s":"PURE_100_4_(9)","x":4.3,"y":25.8},{"s":"PURE_100_4_(9)","x":5,"y":27},{"s":"PURE_100_4_(9)","x":5.5,"y":26},{"s":"PURE_100_4_(9)","x":6.2,"y":24.6},{"s":"PURE_100_4_(9)","x":6.9,"y":25.3},{"s":"PURE_100_4_(9)","x":7.4,"y":24.2},{"s":"PURE_100_4_(9)","x":7.9,"y":23.2},{"s":"PURE_100_4_(9)","x":8.6,"y":22.3},{"s":"PURE_100_4_(9)","x":9.4,"y":22.6},{"s":"PURE_100_4_(9)","x":10.2,"y":22.5},{"s":"PURE_100_4_(9)","x":10.7,"y":23},{"s":"PURE_100_4_(9)","x":11.4,"y":21.8},{"s":"PURE_100_4_(9)","x":12.1,"y":22.5},{"s":"PURE_100_4_(9)","x":12.6,"y":21.8},{"s":"PURE_100_4_(9)","x":13.1,"y":21.4},{"s":"PURE_100_4_(9)","x":13.8,"y":22},{"s":"PURE_100_4_(9)","x":14.5,"y":22.7},{"s":"PURE_100_4_(9)","x":15,"y":22},{"s":"PURE_100_4_(9)","x":15.5,"y":21.8},{"s":"PURE_100_4_(9)","x":16.1,"y":21.5},{"s":"PURE_100_4_(9)","x":16.7,"y":20.9},{"s":"PURE_100_4_(9)","x":17.6,"y":20.8},{"s":"PURE_100_4_(9)","x":18.6,"y":20.7},{"s":"PURE_100_4_(9)","x":19.5,"y":21.6},{"s":"PURE_100_4_(9)","x":20.3,"y":22.8},{"s":"PURE_100_4_(9)","x":21,"y":23.2},{"s":"PURE_100_4_(9)","x":21.6,"y":22.4},{"s":"PURE_100_4_(9)","x":22.1,"y":21},{"s":"PURE_100_4_(9)","x":23,"y":21.3},{"s":"PURE_100_4_(9)","x":23.8,"y":22},{"s":"PURE_100_4_(9)","x":24.6,"y":22.2},{"s":"PURE_100_4_(9)","x":25.4,"y":22.9},{"s":"PURE_100_4_(9)","x":26.2,"y":23.6},{"s":"PURE_100_4_(9)","x":26.9,"y":23.8},{"s":"PURE_100_4_(9)","x":27.5,"y":23.5},{"s":"PURE_100_4_(9)","x":28.1,"y":22.6},{"s":"PURE_100_4_(9)","x":28.8,"y":23.3},{"s":"PURE_100_4_(9)","x":29.6,"y":23.9},{"s":"PURE_100_4_(9)","x":30.5,"y":24.6},{"s":"PURE_100_4_(9)","x":31.2,"y":22.6},{"s":"PURE_100_4_(9)","x":32,"y":21.8},{"s":"PURE_100_4_(9)","x":32.9,"y":21.2},{"s":"PURE_100_4_(9)","x":33.6,"y":21.4},{"s":"PURE_100_4_(9)","x":34.4,"y":22},{"s":"PURE_100_4_(9)","x":35.2,"y":22.3},{"s":"PURE_100_4_(9)","x":35.5,"y":21},{"s":"PURE_100_4_(9)","x":35.7,"y":18.9},{"s":"PURE_100_4_(9)","x":36.4,"y":20.1},{"s":"PURE_100_4_(9)","x":37.2,"y":19.8},{"s":"PURE_100_4_(9)","x":38,"y":19.5},{"s":"PURE_100_4_(9)","x":38.8,"y":20.1},{"s":"PURE_100_4_(9)","x":39.5,"y":19.4},{"s":"PURE_100_4_(9)","x":40.3,"y":19.8},{"s":"PURE_100_4_(9)","x":41.2,"y":20.2},{"s":"PURE_100_4_(9)","x":42.4,"y":21.6},{"s":"PURE_100_4_(9)","x":43.6,"y":21.2},{"s":"PURE_100_4_(9)","x":44.6,"y":21.7},{"s":"PURE_100_4_(9)","x":45.5,"y":22.2},{"s":"PURE_100_4_(9)","x":46,"y":22.2},{"s":"PURE_100_4_(9)","x":46.7,"y":20.3},{"s":"PURE_100_4_(9)","x":47.3,"y":20.6},{"s":"PURE_100_4_(9)","x":47.9,"y":19.8},{"s":"PURE_100_4_(9)","x":48.6,"y":20.2},{"s":"PURE_100_4_(9)","x":49.5,"y":20.5},{"s":"PURE_100_4_(9)","x":50.3,"y":19.8},{"s":"PURE_100_4_(9)","x":51,"y":19.6},{"s":"PURE_100_4_(9)","x":52,"y":19.1},{"s":"PURE_100_4_(9)","x":53.1,"y":18.7},{"s":"PURE_100_4_(9)","x":54.3,"y":18.8},{"s":"PURE_100_4_(9)","x":55.5,"y":18.9},{"s":"PURE_100_4_(9)","x":56.7,"y":18.6},{"s":"PURE_100_4_(9)","x":57.9,"y":18.3},{"s":"PURE_100_4_(9)","x":59,"y":17.9},{"s":"PURE_100_4_(9)","x":60.2,"y":17.5},{"s":"PURE_100_4_(9)","x":61.9,"y":16.9},{"s":"PURE_100_4_(9)","x":63.5,"y":16.5},{"s":"PURE_100_4_(9)","x":65,"y":16.2},{"s":"PURE_100_4_(9)","x":66.5,"y":16.4},{"s":"PURE_100_4_(9)","x":68.1,"y":16.6},{"s":"PURE_100_4_(9)","x":69.5,"y":16.5},{"s":"PURE_100_4_(9)","x":71,"y":16.8},{"s":"PURE_100_4_(9)","x":72.9,"y":17.1},{"s":"PURE_100_4_(9)","x":74.5,"y":16.8},{"s":"PURE_100_4_(9)","x":76.2,"y":16.6},{"s":"PURE_100_4_(9)","x":77.6,"y":16.4},{"s":"PURE_100_4_(9)","x":79,"y":16.6},{"s":"PURE_100_4_(9)","x":80.5,"y":16.8},{"s":"PURE_100_4_(9)","x":81.7,"y":16.7},{"s":"PURE_100_4_(9)","x":82.5,"y":16.3},{"s":"PURE_100_4_(9)","x":83.3,"y":16.2},{"s":"PURE_100_4_(9)","x":84.5,"y":15.7},{"s":"PURE_100_4_(9)","x":85.7,"y":15.4},{"s":"PURE_100_4_(9)","x":87,"y":15.1},{"s":"PURE_100_4_(9)","x":88.1,"y":14.7},{"s":"PURE_100_4_(9)","x":89.5,"y":14.5},{"s":"PURE_100_4_(9)","x":91,"y":14.3},{"s":"PURE_100_4_(9)","x":92.9,"y":14.1},{"s":"PURE_100_4_(9)","x":94.5,"y":13.6},{"s":"PURE_100_4_(9)","x":96,"y":13.1},{"s":"PURE_100_4_(9)","x":96.7,"y":12.6},{"s":"PURE_100_4_(9)","x":97.5,"y":12.5},{"s":"PURE_100_4_(9)","x":98.3,"y":12.4},{"s":"PURE_100_4_(9)","x":98.8,"y":12.2},{"s":"PURE_100_4_(9)","x":99,"y":7.2}
]},
"data": {"name": "d"},
"mark": {"type": "line", "strokeWidth": 4.2, "strokeJoin": "round", "strokeCap": "round", "clip": true},
"encoding": {
  "x": {"field": "x", "type": "quantitative",
    "scale": {"domain": [0, 100], "nice": false},
    "axis": {"values": [0, 20, 40, 60, 80, 100], "title": "Stroke (mm)", "grid": true, "gridDash": [2, 2], "gridColor": "#7f7f7f", "gridWidth": 1.2,
      "domainColor": "#262626", "domainWidth": 3, "ticks": false, "labelPadding": 18, "labelFontSize": 21.5, "labelColor": "#000000",
      "titleFontSize": 24, "titleFontWeight": "normal", "titleColor": "#000000", "titlePadding": 2, "labelFlush": false}},
  "y": {"field": "y", "type": "quantitative",
    "scale": {"domain": [0, 30], "nice": false},
    "axis": {"values": [0, 5, 10, 15, 20, 25, 30], "title": "Load (kN)", "grid": true, "gridDash": [2, 2], "gridColor": "#7f7f7f", "gridWidth": 1.2,
      "domainColor": "#262626", "domainWidth": 3, "ticks": false, "labelPadding": 22, "labelFontSize": 21.5, "labelColor": "#000000",
      "titleFontSize": 24, "titleFontWeight": "normal", "titleColor": "#000000", "titlePadding": 8, "labelFlush": false}},
  "color": {"field": "s", "type": "nominal", "sort": null,
    "scale": {"domain": ["PURE_50_2_(1)", "PURE_80_2_(4)", "PURE_100_2_(7)", "PURE_50_3_(2)", "PURE_80_3_(5)", "PURE_100_3_(8)", "PURE_50_4_(3)", "PURE_80_4_(6)", "PURE_100_4_(9)"],
      "range": ["#93CDDD", "#4DC4F0", "#3B86C6", "#F4956A", "#EE2C2C", "#B22228", "#6BBF5E", "#8CC84B", "#2DAA57"]},
    "legend": {"orient": "none", "legendX": 428, "legendY": 98, "title": null, "padding": 5, "strokeColor": "#404040", "fillColor": "white",
      "symbolType": "M-2.45,0H2.45", "symbolSize": 400, "symbolStrokeWidth": 4, "symbolOffset": 36, "labelOffset": 16,
      "labelFontSize": 24, "labelColor": "#000000", "rowPadding": 6.4, "labelLimit": 400}}
}
}
